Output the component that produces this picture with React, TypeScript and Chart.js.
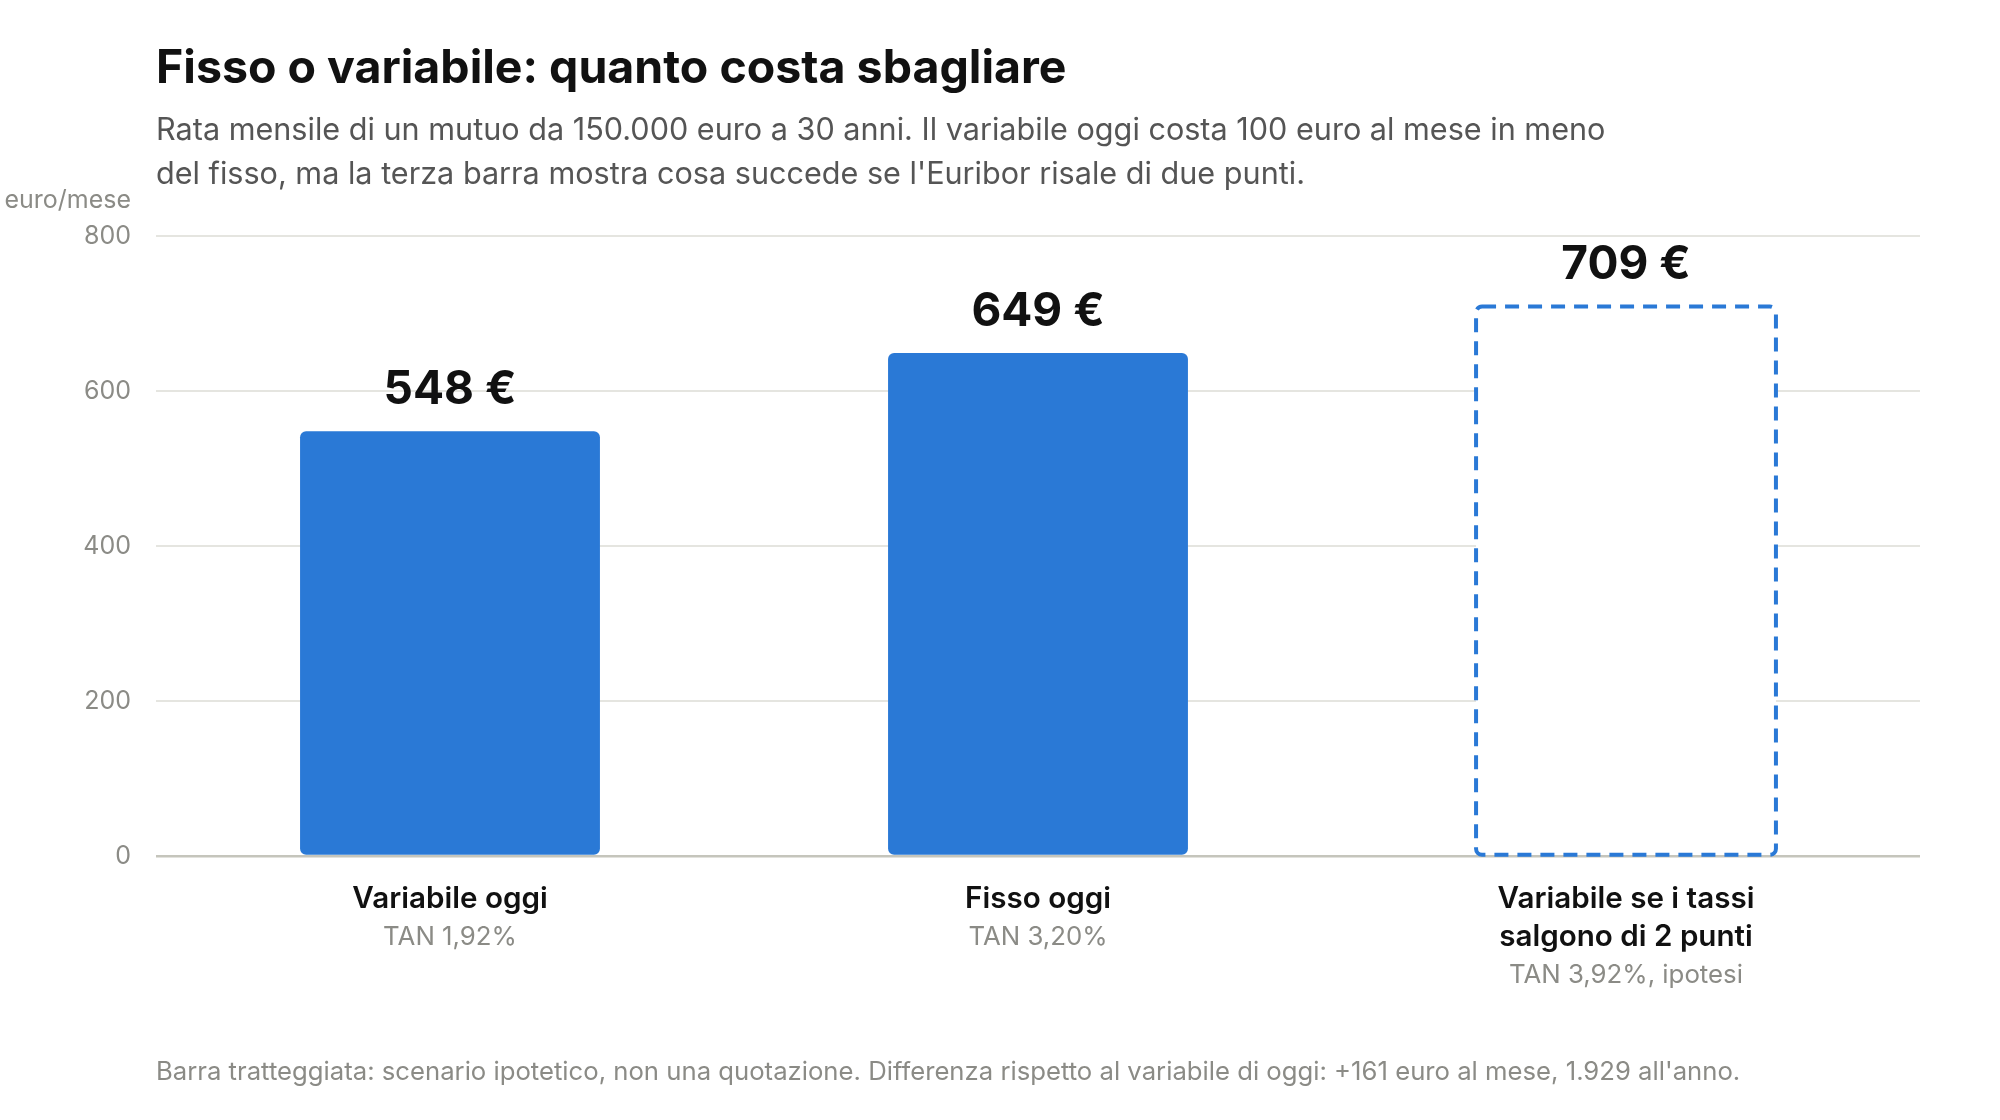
import React, { useEffect, useRef } from "react";
import { Chart, registerables } from "chart.js";

Chart.register(...registerables);

// chart data
const categories = [
  ["Variabile oggi"],
  ["Fisso oggi"],
  ["Variabile se i tassi", "salgono di 2 punti"],
];
const rateNotes = ["TAN 1,92%", "TAN 3,20%", "TAN 3,92%, ipotesi"];
const monthlyPayment = [548, 649, 709];
const isHypothesis = [false, false, true];
const yTicks = [0, 200, 400, 600, 800];

const BLUE = "#2a79d6";
const GREY = "#8b8b86";
const FONT = "Inter";

// value above each bar + dashed outline for the hypothetical scenario
const barDecorations = {
  id: "barDecorations",
  afterDatasetsDraw(chart: any) {
    const ctx: CanvasRenderingContext2D = chart.ctx;
    const meta = chart.getDatasetMeta(0);
    ctx.save();
    meta.data.forEach((bar: any, i: number) => {
      const { x, y, base, width } = bar.getProps(["x", "y", "base", "width"], true);
      if (isHypothesis[i]) {
        ctx.setLineDash([14, 9]);
        ctx.lineWidth = 4;
        ctx.strokeStyle = BLUE;
        ctx.beginPath();
        ctx.roundRect(x - width / 2, y, width, base - y, 6);
        ctx.stroke();
        ctx.setLineDash([]);
      }
      ctx.fillStyle = "#111";
      ctx.font = `700 46px ${FONT}`;
      ctx.textAlign = "center";
      ctx.textBaseline = "middle";
      ctx.fillText(`${monthlyPayment[i]} €`, x, y - 41);
    });
    ctx.restore();
  },
};

// grey notes under the category labels and unit label above the y axis
const axisNotes = {
  id: "axisNotes",
  afterDraw(chart: any) {
    const ctx: CanvasRenderingContext2D = chart.ctx;
    const { x, y } = chart.scales;
    ctx.save();
    ctx.fillStyle = GREY;
    ctx.font = `400 25.8px ${FONT}`;
    ctx.textAlign = "center";
    ctx.textBaseline = "middle";
    rateNotes.forEach((note, i) => {
      const lines = categories[i].length;
      ctx.fillText(note, x.getPixelForValue(i), x.top + 43 + lines * 38);
    });
    ctx.font = `400 25px ${FONT}`;
    ctx.textAlign = "right";
    ctx.fillText("euro/mese", y.right - 25, y.top - 36);
    ctx.restore();
  },
};

const App: React.FC = () => {
  const canvasRef = useRef<HTMLCanvasElement | null>(null);
  const chartRef = useRef<Chart | null>(null);

  useEffect(() => {
    if (!canvasRef.current) return;
    if (chartRef.current) chartRef.current.destroy();

    chartRef.current = new Chart(canvasRef.current, {
      type: "bar",
      data: {
        labels: categories,
        datasets: [
          {
            data: monthlyPayment,
            backgroundColor: isHypothesis.map((h) => (h ? "#ffffff" : BLUE)),
            borderWidth: 0,
            borderRadius: 6,
            borderSkipped: false,
            barPercentage: 0.51,
            categoryPercentage: 1,
          },
        ],
      },
      options: {
        animation: false,
        responsive: false,
        devicePixelRatio: 1,
        layout: { padding: { top: 236, right: 80, bottom: 0, left: 0 } },
        plugins: {
          legend: { display: false },
          tooltip: { enabled: false },
        },
        scales: {
          x: {
            grid: { display: false },
            border: { display: false },
            ticks: {
              color: "#111",
              font: { family: FONT, size: 29.6, weight: 600, lineHeight: 38 / 29.6 },
              padding: 16,
              maxRotation: 0,
              autoSkip: false,
            },
            afterFit: (scale: any) => {
              scale.height = 264;
            },
          },
          y: {
            min: yTicks[0],
            max: yTicks[yTicks.length - 1],
            border: { display: false },
            grid: {
              drawTicks: false,
              color: (c: any) => (c.tick && c.tick.value === 0 ? "#c5c5bc" : "#e5e5e0"),
              lineWidth: (c: any) => (c.tick && c.tick.value === 0 ? 2.5 : 2),
            },
            ticks: {
              stepSize: yTicks[1] - yTicks[0],
              color: GREY,
              font: { family: FONT, size: 25 },
              padding: 25,
            },
            afterFit: (scale: any) => {
              scale.width = 156;
            },
          },
        },
      },
      plugins: [barDecorations, axisNotes],
    } as any);

    return () => {
      if (chartRef.current) {
        chartRef.current.destroy();
        chartRef.current = null;
      }
    };
  }, []);

  return (
    <div
      style={{
        position: "absolute",
        left: 0,
        top: 0,
        width: 2000,
        height: 1120,
        background: "#fff",
        fontFamily: FONT,
      }}
    >
      <canvas
        ref={canvasRef}
        width={2000}
        height={1120}
        style={{ position: "absolute", left: 0, top: 0, width: 2000, height: 1120 }}
      ></canvas>
      <div
        style={{
          position: "absolute",
          left: 156,
          top: 36,
          fontSize: 46.5,
          fontWeight: 700,
          lineHeight: "60px",
          color: "#111",
        }}
      >
        Fisso o variabile: quanto costa sbagliare
      </div>
      <div
        style={{
          position: "absolute",
          left: 156,
          top: 107,
          fontSize: 30.6,
          lineHeight: "43.5px",
          color: "#555",
          whiteSpace: "nowrap",
        }}
      >
        Rata mensile di un mutuo da 150.000 euro a 30 anni. Il variabile oggi costa 100 euro al mese in meno
        <br />
        del fisso, ma la terza barra mostra cosa succede se l'Euribor risale di due punti.
      </div>
      <div
        style={{
          position: "absolute",
          left: 156,
          top: 1056,
          fontSize: 25.7,
          lineHeight: "30px",
          color: GREY,
          whiteSpace: "nowrap",
        }}
      >
        Barra tratteggiata: scenario ipotetico, non una quotazione. Differenza rispetto al variabile di oggi: +161 euro al mese, 1.929 all'anno.
      </div>
    </div>
  );
};

export default App;
